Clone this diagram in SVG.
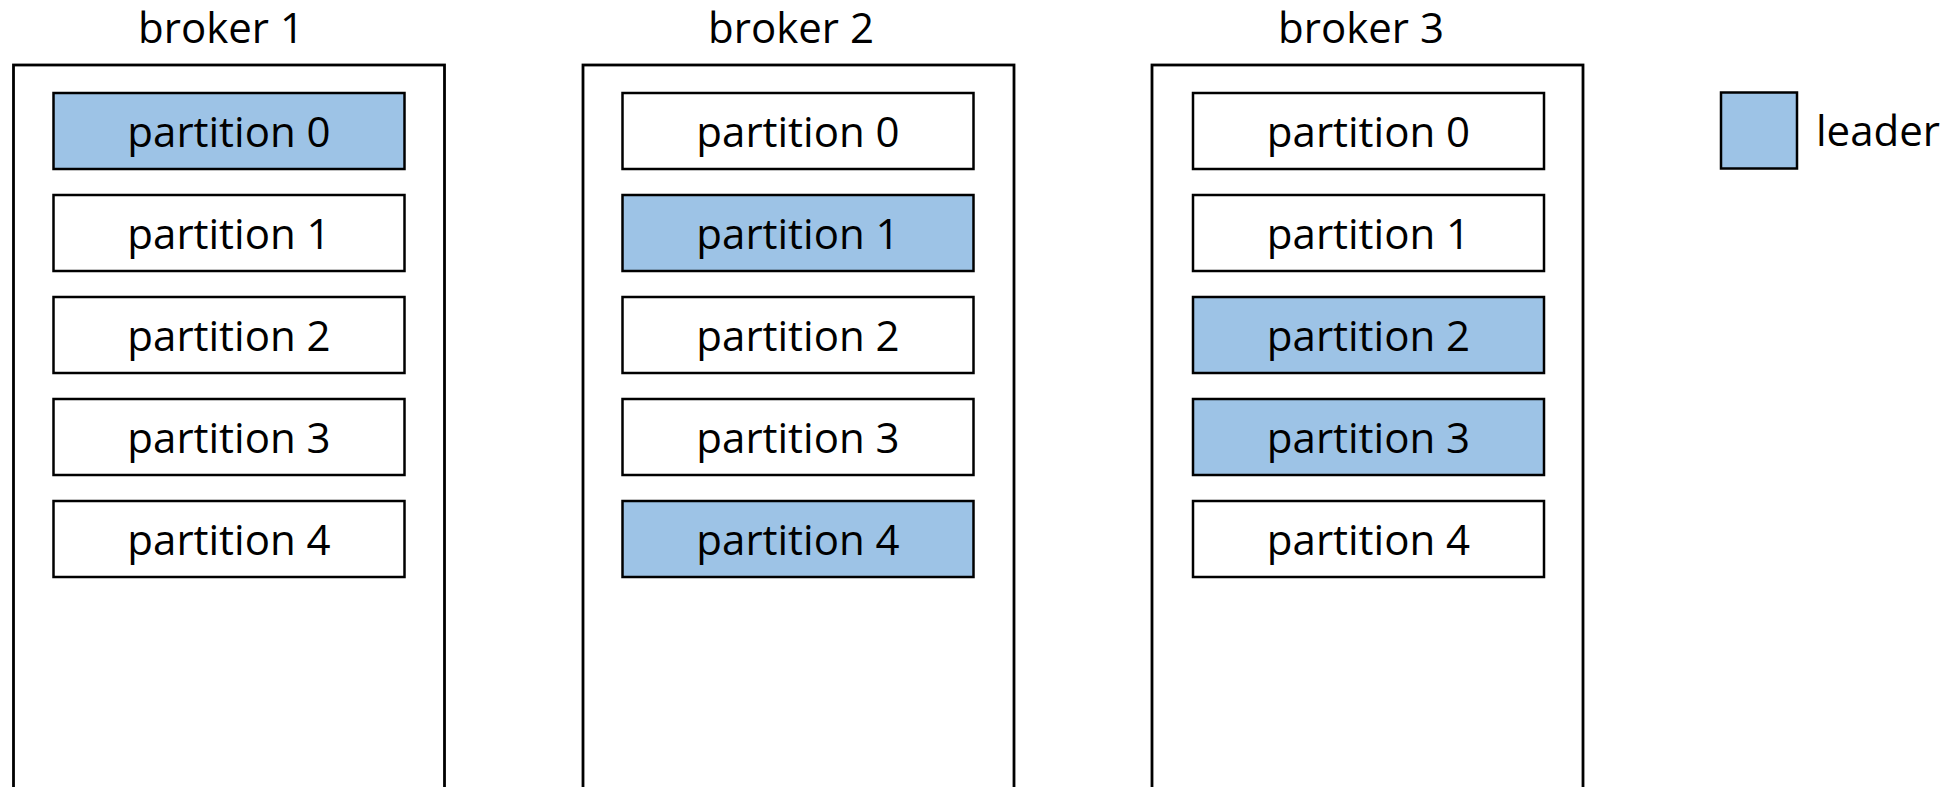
<svg xmlns="http://www.w3.org/2000/svg" width="1954" height="787" viewBox="0 0 1954 787">
<style>
.broker{fill:#ffffff;stroke:#000;stroke-width:2.8}
.part{fill:#ffffff;stroke:#000;stroke-width:2.5}
.leader{fill:#9DC3E6}
text{font-family:"Open Sans","Noto Sans",sans-serif;font-size:42px;fill:#000}
.c{text-anchor:middle}
</style>
<rect width="1954" height="787" fill="#ffffff"/>
<g id="broker1">
<text class="c" x="221" y="43">broker 1</text>
<rect class="broker" x="13.5" y="65" width="431" height="740"/>
<g id="b1p0"><rect class="part leader" x="53.5" y="93" width="351" height="76"/><text class="c" x="229" y="147">partition 0</text></g>
<g id="b1p1"><rect class="part" x="53.5" y="195" width="351" height="76"/><text class="c" x="229" y="249">partition 1</text></g>
<g id="b1p2"><rect class="part" x="53.5" y="297" width="351" height="76"/><text class="c" x="229" y="351">partition 2</text></g>
<g id="b1p3"><rect class="part" x="53.5" y="399" width="351" height="76"/><text class="c" x="229" y="453">partition 3</text></g>
<g id="b1p4"><rect class="part" x="53.5" y="501" width="351" height="76"/><text class="c" x="229" y="555">partition 4</text></g>
</g>
<g id="broker2">
<text class="c" x="791" y="43">broker 2</text>
<rect class="broker" x="583" y="65" width="431" height="740"/>
<g id="b2p0"><rect class="part" x="622.5" y="93" width="351" height="76"/><text class="c" x="798" y="147">partition 0</text></g>
<g id="b2p1"><rect class="part leader" x="622.5" y="195" width="351" height="76"/><text class="c" x="798" y="249">partition 1</text></g>
<g id="b2p2"><rect class="part" x="622.5" y="297" width="351" height="76"/><text class="c" x="798" y="351">partition 2</text></g>
<g id="b2p3"><rect class="part" x="622.5" y="399" width="351" height="76"/><text class="c" x="798" y="453">partition 3</text></g>
<g id="b2p4"><rect class="part leader" x="622.5" y="501" width="351" height="76"/><text class="c" x="798" y="555">partition 4</text></g>
</g>
<g id="broker3">
<text class="c" x="1361" y="43">broker 3</text>
<rect class="broker" x="1152" y="65" width="431" height="740"/>
<g id="b3p0"><rect class="part" x="1193" y="93" width="351" height="76"/><text class="c" x="1368.5" y="147">partition 0</text></g>
<g id="b3p1"><rect class="part" x="1193" y="195" width="351" height="76"/><text class="c" x="1368.5" y="249">partition 1</text></g>
<g id="b3p2"><rect class="part leader" x="1193" y="297" width="351" height="76"/><text class="c" x="1368.5" y="351">partition 2</text></g>
<g id="b3p3"><rect class="part leader" x="1193" y="399" width="351" height="76"/><text class="c" x="1368.5" y="453">partition 3</text></g>
<g id="b3p4"><rect class="part" x="1193" y="501" width="351" height="76"/><text class="c" x="1368.5" y="555">partition 4</text></g>
</g>
<g id="legend">
<rect class="part leader" x="1721" y="92.5" width="76" height="76"/>
<text x="1816" y="146">leader</text>
</g>
<g id="connectors"></g>
</svg>
